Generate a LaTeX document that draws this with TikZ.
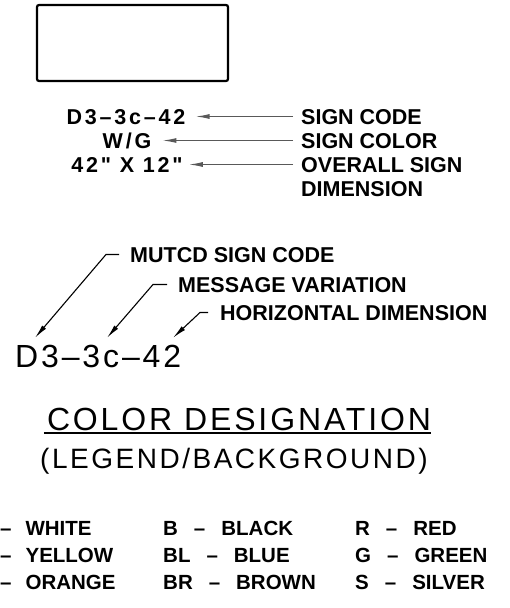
\documentclass[tikz,border=0pt]{standalone}
\usepackage{fontspec}
\setmainfont{Liberation Sans}
\newfontfamily\thinfont{Liberation Sans}[LetterSpace=9]
\newfontfamily\codefont{Liberation Sans}[LetterSpace=13]
\usetikzlibrary{arrows.meta,positioning}
\definecolor{leadgray}{gray}{0.35}
\newcommand{\inch}{\symbol{34}}

\begin{document}
\begin{tikzpicture}[x=1pt, y=-1pt, inner sep=0pt,
  lbl/.style={font=\fontsize{21.5}{24}\selectfont\bfseries, text height=15pt, text depth=0pt, anchor=base west},
  code/.style={lbl, font=\codefont\fontsize{21.5}{24}\selectfont\bfseries, anchor=base},
  key/.style={font=\fontsize{20.5}{24}\selectfont\bfseries, text height=15pt, text depth=0pt, anchor=base west},
  big/.style={font=\thinfont\fontsize{32}{36}\selectfont, text height=23pt, text depth=0pt},
  garr/.style={-{Latex[length=14pt,width=5pt]}, draw=leadgray, line width=1.2pt},
  barr/.style={-{Latex[length=14pt,width=5pt]}, line width=1.1pt}]
\useasboundingbox (0,0) rectangle (510,608);
% sign panel
\node[draw, line width=2.2pt, rounded corners=2pt, minimum width=191pt, minimum height=76pt] (sign) at (132.5,43) {};
% sign callouts
\node[code] (dcode) at (126,124) {D3–3c–42};
\node[code] (dcolor) at (127,148) {W/G};
\node[code] (dsize) at (127,172) {42\inch{} X 12\inch};
\node[lbl] (scode) at (301,124) {SIGN CODE};
\node[lbl] (scolor) at (301,148) {SIGN COLOR};
\node[lbl] (ssize) at (301,172) {OVERALL SIGN};
\node[lbl, below=9pt of ssize.south west, anchor=north west] (sdim) {DIMENSION};
\draw[garr] ([xshift=-8pt]scode.west) -- ([xshift=10pt]dcode.east);
\draw[garr] ([xshift=-8pt]scolor.west) -- ([xshift=11pt]dcolor.east);
\draw[garr] ([xshift=-8pt]ssize.west) -- ([xshift=6pt]dsize.east);
% code breakdown
\node[lbl] (mutcd) at (130,262) {MUTCD SIGN CODE};
\node[lbl] (msgvar) at (178,292) {MESSAGE VARIATION};
\node[lbl] (hdim) at (220,320) {HORIZONTAL DIMENSION};
\node[big, anchor=base west] (example) at (15,367) {D3–3c–42};
\coordinate (tipd) at ([shift={(20,-6)}]example.north west);
\coordinate (tipc) at ([shift={(92,-6)}]example.north west);
\coordinate (tipn) at ([shift={(158,-6)}]example.north west);
\draw[barr] ([xshift=-11pt]mutcd.west) -- ++(-13,0) -- (tipd);
\draw[barr] ([xshift=-11pt]msgvar.west) -- ++(-14,0) -- (tipc);
\draw[barr] ([xshift=-12pt]hdim.west) -- ++(-8,0) -- (tipn);
% color designation
\node[big, anchor=base] (title) at (239,430) {COLOR DESIGNATION};
\draw[line width=1.2pt] ([shift={(-3,3)}]title.base west) -- ([shift={(0,3)}]title.base east);
\node[big, font=\thinfont\fontsize{28}{32}\selectfont, text height=20pt, anchor=base] (subtitle) at (234,468) {(LEGEND/BACKGROUND)};
\foreach \word [count=\r] in {WHITE, YELLOW, ORANGE}
  \node[key] (ka\r) at (0,{508+27*\r}) {–\hspace{14pt}\word};
\foreach \code/\word [count=\r] in {B/BLACK, BL/BLUE, BR/BROWN}
  \node[key] (kb\r) at (163,{508+27*\r}) {\code\hspace{16pt}–\hspace{16pt}\word};
\foreach \code/\word [count=\r] in {R/RED, G/GREEN, S/SILVER}
  \node[key] (kc\r) at (355,{508+27*\r}) {\code\hspace{16pt}–\hspace{16pt}\word};
\end{tikzpicture}
\end{document}
